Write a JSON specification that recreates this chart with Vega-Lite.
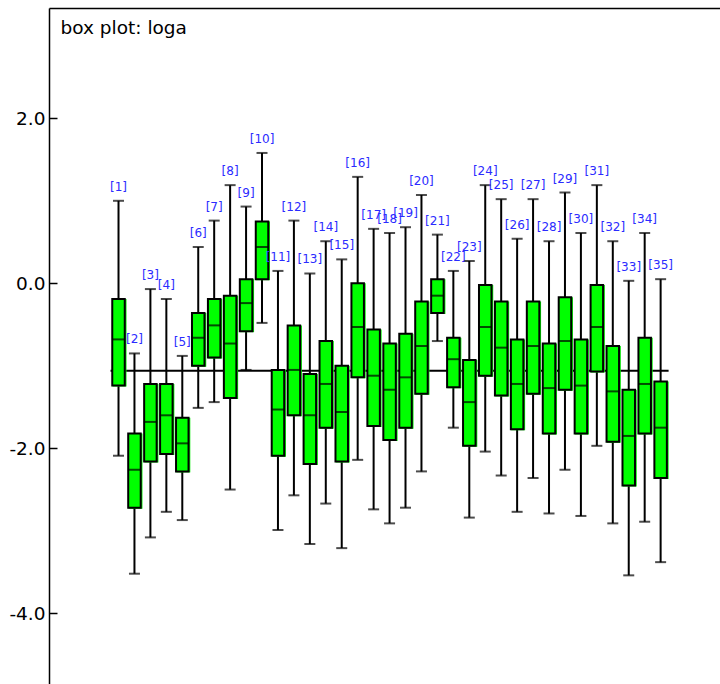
{
  "$schema": "https://vega.github.io/schema/vega-lite/v6.json",
  "autosize": "none",
  "width": 671,
  "height": 676,
  "padding": {"left": 49, "top": 8, "right": 0, "bottom": 0},
  "background": "white",
  "config": {"view": {"stroke": null}, "font": "DejaVu Sans"},
  "datasets": {
    "boxes": [
      {"i": 1, "lo": -2.09, "q1": -1.24, "med": -0.68, "q3": -0.19, "hi": 1.00, "label": "[1]"},
      {"i": 2, "lo": -3.52, "q1": -2.72, "med": -2.26, "q3": -1.82, "hi": -0.85, "label": "[2]"},
      {"i": 3, "lo": -3.08, "q1": -2.16, "med": -1.68, "q3": -1.22, "hi": -0.07, "label": "[3]"},
      {"i": 4, "lo": -2.77, "q1": -2.07, "med": -1.60, "q3": -1.22, "hi": -0.19, "label": "[4]"},
      {"i": 5, "lo": -2.87, "q1": -2.28, "med": -1.94, "q3": -1.63, "hi": -0.88, "label": "[5]"},
      {"i": 6, "lo": -1.51, "q1": -1.00, "med": -0.66, "q3": -0.36, "hi": 0.44, "label": "[6]"},
      {"i": 7, "lo": -1.44, "q1": -0.90, "med": -0.51, "q3": -0.19, "hi": 0.76, "label": "[7]"},
      {"i": 8, "lo": -2.50, "q1": -1.39, "med": -0.73, "q3": -0.15, "hi": 1.19, "label": "[8]"},
      {"i": 9, "lo": -1.05, "q1": -0.58, "med": -0.24, "q3": 0.05, "hi": 0.93, "label": "[9]"},
      {"i": 10, "lo": -0.48, "q1": 0.05, "med": 0.44, "q3": 0.75, "hi": 1.58, "label": "[10]"},
      {"i": 11, "lo": -2.99, "q1": -2.09, "med": -1.53, "q3": -1.05, "hi": 0.15, "label": "[11]"},
      {"i": 12, "lo": -2.57, "q1": -1.60, "med": -1.05, "q3": -0.51, "hi": 0.76, "label": "[12]"},
      {"i": 13, "lo": -3.16, "q1": -2.19, "med": -1.60, "q3": -1.10, "hi": 0.12, "label": "[13]"},
      {"i": 14, "lo": -2.67, "q1": -1.75, "med": -1.22, "q3": -0.70, "hi": 0.51, "label": "[14]"},
      {"i": 15, "lo": -3.21, "q1": -2.16, "med": -1.56, "q3": -1.00, "hi": 0.29, "label": "[15]"},
      {"i": 16, "lo": -2.14, "q1": -1.14, "med": -0.53, "q3": 0.00, "hi": 1.29, "label": "[16]"},
      {"i": 17, "lo": -2.74, "q1": -1.73, "med": -1.12, "q3": -0.56, "hi": 0.66, "label": "[17]"},
      {"i": 18, "lo": -2.91, "q1": -1.90, "med": -1.29, "q3": -0.73, "hi": 0.61, "label": "[18]"},
      {"i": 19, "lo": -2.72, "q1": -1.75, "med": -1.14, "q3": -0.61, "hi": 0.68, "label": "[19]"},
      {"i": 20, "lo": -2.28, "q1": -1.34, "med": -0.76, "q3": -0.22, "hi": 1.07, "label": "[20]"},
      {"i": 21, "lo": -0.70, "q1": -0.36, "med": -0.15, "q3": 0.05, "hi": 0.59, "label": "[21]"},
      {"i": 22, "lo": -1.75, "q1": -1.26, "med": -0.92, "q3": -0.66, "hi": 0.15, "label": "[22]"},
      {"i": 23, "lo": -2.84, "q1": -1.97, "med": -1.44, "q3": -0.93, "hi": 0.27, "label": "[23]"},
      {"i": 24, "lo": -2.04, "q1": -1.12, "med": -0.53, "q3": -0.02, "hi": 1.19, "label": "[24]"},
      {"i": 25, "lo": -2.33, "q1": -1.36, "med": -0.78, "q3": -0.22, "hi": 1.02, "label": "[25]"},
      {"i": 26, "lo": -2.77, "q1": -1.77, "med": -1.22, "q3": -0.68, "hi": 0.54, "label": "[26]"},
      {"i": 27, "lo": -2.36, "q1": -1.34, "med": -0.76, "q3": -0.22, "hi": 1.02, "label": "[27]"},
      {"i": 28, "lo": -2.79, "q1": -1.82, "med": -1.27, "q3": -0.73, "hi": 0.51, "label": "[28]"},
      {"i": 29, "lo": -2.26, "q1": -1.29, "med": -0.70, "q3": -0.17, "hi": 1.10, "label": "[29]"},
      {"i": 30, "lo": -2.82, "q1": -1.82, "med": -1.24, "q3": -0.68, "hi": 0.61, "label": "[30]"},
      {"i": 31, "lo": -1.97, "q1": -1.07, "med": -0.53, "q3": -0.02, "hi": 1.19, "label": "[31]"},
      {"i": 32, "lo": -2.91, "q1": -1.92, "med": -1.31, "q3": -0.76, "hi": 0.51, "label": "[32]"},
      {"i": 33, "lo": -3.54, "q1": -2.45, "med": -1.85, "q3": -1.29, "hi": 0.03, "label": "[33]"},
      {"i": 34, "lo": -2.89, "q1": -1.82, "med": -1.22, "q3": -0.66, "hi": 0.61, "label": "[34]"},
      {"i": 35, "lo": -3.38, "q1": -2.36, "med": -1.75, "q3": -1.19, "hi": 0.05, "label": "[35]"}
    ],
    "ref": [{"i": 0.5, "i2": 35.5, "v": -1.06}]
  },
  "encoding": {
    "x": {"field": "i", "type": "quantitative",
      "scale": {"domain": [-3.046, 38.41], "nice": false, "zero": false},
      "axis": {"orient": "top", "title": null, "labels": false, "ticks": false, "grid": false, "domain": true, "domainColor": "black", "domainWidth": 1.5}}
  },
  "layer": [
    {
      "data": {"name": "boxes"},
      "mark": {"type": "rule", "color": "black", "strokeWidth": 2},
      "encoding": {
        "y": {"field": "lo", "type": "quantitative",
          "scale": {"domain": [-4.857, 3.337], "nice": false, "zero": false},
          "axis": {"title": "box plot: loga", "titleAngle": 0, "titleX": 11, "titleY": 25, "titleAlign": "left", "titleBaseline": "alphabetic",
            "titleFont": "DejaVu Sans", "titleFontSize": 18.5, "titleFontWeight": "normal", "titleColor": "black",
            "grid": false, "values": [-4, -2, 0, 2],
            "labelExpr": "datum.value < 0 ? '-' + format(-datum.value, '.1f') : format(datum.value, '.1f')",
            "domainColor": "black", "domainWidth": 1.5, "tickColor": "black", "tickWidth": 1.5,
            "tickSize": -8, "labelPadding": 12, "labelFont": "DejaVu Sans", "labelFontSize": 18.5, "labelColor": "black"}},
        "y2": {"field": "hi"}
      }
    },
    {
      "data": {"name": "ref"},
      "mark": {"type": "rule", "color": "black", "strokeWidth": 2},
      "encoding": {
        "x2": {"field": "i2"},
        "y": {"field": "v", "type": "quantitative", "scale": {"domain": [-4.857, 3.337], "nice": false, "zero": false}}
      }
    },
    {
      "data": {"name": "boxes"},
      "mark": {"type": "bar", "color": "#00ee00", "size": 14, "xOffset": 1, "yOffset": 1},
      "encoding": {
        "y": {"field": "q1", "type": "quantitative", "scale": {"domain": [-4.857, 3.337], "nice": false, "zero": false}},
        "y2": {"field": "q3"}
      }
    },
    {
      "data": {"name": "boxes"},
      "mark": {"type": "bar", "fill": "#00ff00", "stroke": "black", "strokeWidth": 2, "size": 12.5},
      "encoding": {
        "y": {"field": "q1", "type": "quantitative", "scale": {"domain": [-4.857, 3.337], "nice": false, "zero": false}},
        "y2": {"field": "q3"}
      }
    },
    {
      "data": {"name": "boxes"},
      "mark": {"type": "tick", "orient": "horizontal", "color": "black", "size": 13, "thickness": 2},
      "encoding": {
        "y": {"field": "med", "type": "quantitative", "scale": {"domain": [-4.857, 3.337], "nice": false, "zero": false}}
      }
    },
    {
      "data": {"name": "boxes"},
      "mark": {"type": "tick", "orient": "horizontal", "color": "black", "size": 11, "thickness": 2},
      "encoding": {
        "y": {"field": "lo", "type": "quantitative", "scale": {"domain": [-4.857, 3.337], "nice": false, "zero": false}}
      }
    },
    {
      "data": {"name": "boxes"},
      "mark": {"type": "tick", "orient": "horizontal", "color": "black", "size": 11, "thickness": 2},
      "encoding": {
        "y": {"field": "hi", "type": "quantitative", "scale": {"domain": [-4.857, 3.337], "nice": false, "zero": false}}
      }
    },
    {
      "data": {"name": "boxes"},
      "mark": {"type": "text", "color": "#2b2bff", "font": "DejaVu Sans", "fontSize": 12, "dy": -10, "baseline": "alphabetic", "align": "center"},
      "encoding": {
        "y": {"field": "hi", "type": "quantitative", "scale": {"domain": [-4.857, 3.337], "nice": false, "zero": false}},
        "text": {"field": "label"}
      }
    }
  ]
}
